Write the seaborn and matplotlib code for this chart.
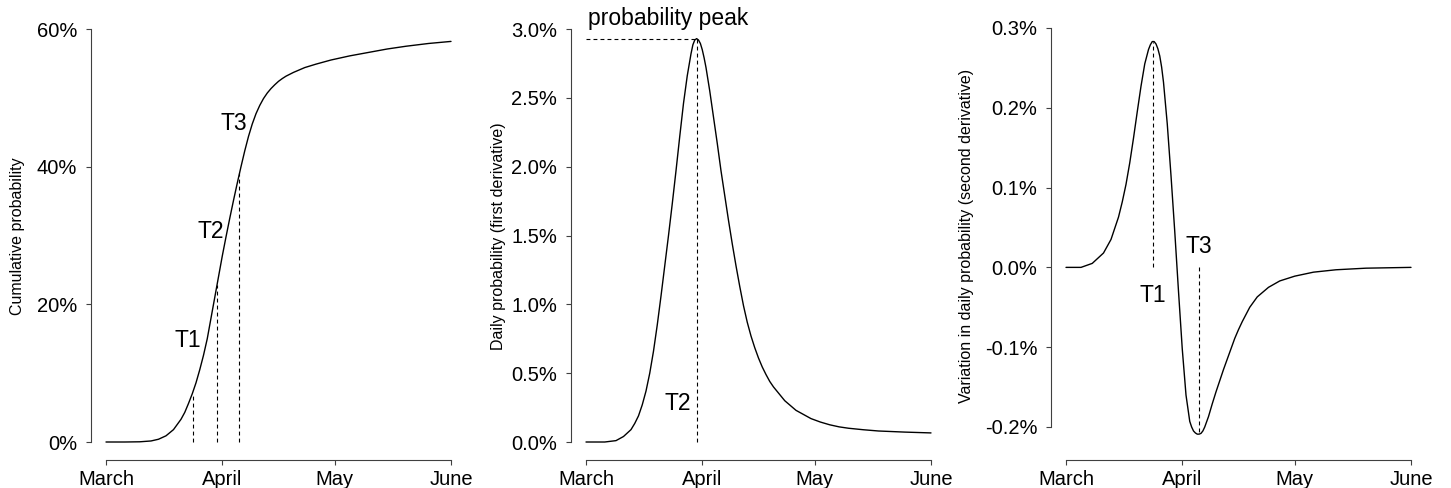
"""
Cumulative, daily and variation-in-daily probability curves (three panels)
"""

# %% --------------------------------------------------------------------------
# Imports
# -----------------------------------------------------------------------------
import matplotlib
matplotlib.use("Agg")
import matplotlib.pyplot as plt
from matplotlib.ticker import FuncFormatter
import seaborn as sns

# %% --------------------------------------------------------------------------
# Data (days since 1 March, values in %)
# -----------------------------------------------------------------------------
cum_days = [0, 5, 9, 12, 14, 16, 18, 20, 21, 22, 23, 24, 25, 26, 27, 28, 29,
            30, 31, 32, 33, 34, 35, 36, 37, 38, 39, 40, 41, 42, 43, 44, 45,
            46, 47, 48, 50, 53, 56, 60, 65, 70, 75, 80, 86, 92]
cum_prob = [0.0, 0.0, 0.03, 0.15, 0.4, 0.9, 1.8, 3.3, 4.3, 5.6, 7.0, 8.6,
            10.5, 12.6, 15.0, 18.0, 21.0, 24.0, 27.0, 29.8, 32.5, 35.1, 37.6,
            40.0, 42.3, 44.4, 46.2, 47.7, 48.9, 49.9, 50.7, 51.35, 51.9,
            52.4, 52.8, 53.15, 53.7, 54.4, 54.9, 55.5, 56.1, 56.6, 57.1,
            57.5, 57.9, 58.2]

daily_days = [0, 5, 8, 10, 12, 13, 14, 15, 16, 17, 18, 19, 20, 21, 22, 23,
              24, 25, 26, 27, 28, 28.5, 29, 29.5, 30, 30.5, 31, 31.5, 32, 33,
              34, 35, 36, 37, 38, 39, 40, 41, 42, 43, 44, 45, 46, 47, 48, 49,
              50, 51.5, 53, 54.5, 56, 58, 60, 62.5, 65, 67.5, 70, 74, 78, 85,
              92]
daily_prob = [0.0, 0.0, 0.01, 0.04, 0.09, 0.135, 0.19, 0.27, 0.37, 0.50,
              0.66, 0.85, 1.06, 1.28, 1.50, 1.73, 1.97, 2.22, 2.46, 2.66,
              2.82, 2.885, 2.92, 2.93, 2.92, 2.895, 2.85, 2.79, 2.72, 2.55,
              2.36, 2.17, 1.97, 1.79, 1.61, 1.44, 1.28, 1.13, 0.99, 0.87,
              0.77, 0.685, 0.61, 0.545, 0.49, 0.44, 0.40, 0.35, 0.30, 0.265,
              0.23, 0.20, 0.17, 0.145, 0.125, 0.11, 0.10, 0.089, 0.08, 0.072,
              0.066]

var_days = [0, 4, 7, 10, 12, 14, 15, 16, 17, 18, 19, 20, 21, 22, 22.5, 23,
            23.5, 24, 24.5, 25, 25.5, 26, 27, 28, 29, 30, 31, 32, 33, 33.5,
            34, 34.5, 35, 35.5, 36, 36.5, 37, 38, 39, 40, 41, 42, 43, 44, 45,
            46, 47, 48, 49, 51, 54, 57, 61, 66, 72, 80, 92]
var_prob = [0.0, 0.0, 0.005, 0.018, 0.035, 0.063, 0.082, 0.104, 0.131,
            0.162, 0.195, 0.227, 0.255, 0.273, 0.279, 0.283, 0.283, 0.280,
            0.274, 0.265, 0.251, 0.232, 0.180, 0.115, 0.045, -0.030, -0.102,
            -0.160, -0.193, -0.200, -0.205, -0.2075, -0.209, -0.209, -0.208,
            -0.205, -0.200, -0.187, -0.171, -0.156, -0.142, -0.128, -0.115,
            -0.102, -0.089, -0.078, -0.068, -0.059, -0.050, -0.037, -0.025,
            -0.017, -0.011, -0.006, -0.003, -0.001, 0.0]

month_ticks = [0, 31, 61, 92]
month_labels = ["March", "April", "May", "June"]

# turning points
t_days = [23.2, 29.6, 35.5]
t_cum = [7.1, 22.8, 39.1]
peak_daily = 2.93
t1_var = 0.283
t3_var = -0.209

# %% --------------------------------------------------------------------------
# Figure
# -----------------------------------------------------------------------------
sns.set_style("ticks")
plt.rcParams["font.family"] = ["Liberation Sans", "DejaVu Sans"]
plt.rcParams["text.color"] = "black"
plt.rcParams["axes.labelcolor"] = "black"

W, H = 1451, 488
fig = plt.figure(figsize=(W / 100, H / 100), dpi=100)

XLIM = (-4.0, 95.7)
px_w = (XLIM[1] - XLIM[0]) * 3.75
bottom_px, top_px = 460, 26


def make_ax(left_px, ylim, yticks, fmt, ylabel, label_x_px):
    ax = fig.add_axes([left_px / W, (H - bottom_px) / H, px_w / W,
                       (bottom_px - top_px) / H])
    ax.set_xlim(*XLIM)
    ax.set_ylim(*ylim)
    ax.set_xticks(month_ticks)
    ax.set_xticklabels(month_labels)
    ax.set_yticks(yticks)
    ax.yaxis.set_major_formatter(FuncFormatter(lambda v, p: fmt.format(v)))
    for s in ["top", "right"]:
        ax.spines[s].set_visible(False)
    for s in ["left", "bottom"]:
        ax.spines[s].set_color("#404040")
        ax.spines[s].set_linewidth(0.8)
    ax.spines["bottom"].set_bounds(month_ticks[0], month_ticks[-1])
    ax.spines["left"].set_bounds(yticks[0], yticks[-1])
    ax.tick_params(axis="both", direction="out", length=3.6, width=0.8,
                   color="#404040", labelsize=14.5, labelcolor="black",
                   bottom=True, left=True)
    ax.tick_params(axis="x", pad=3.5)
    ax.tick_params(axis="y", pad=6.3)
    ax.set_xlabel("")
    ax.set_ylabel(ylabel, fontsize=11.5)
    ax.yaxis.set_label_coords((label_x_px - left_px) / px_w,
                              (bottom_px - 236) / (bottom_px - top_px))
    ax.yaxis.label.set_verticalalignment("center")
    ax.grid(False)
    return ax


dash = dict(color="black", lw=0.8, linestyle=(0, (3.5, 2.8)))
txt = dict(fontsize=16.5, ha="center", va="baseline")

# Panel 1: cumulative probability
ax1 = make_ax(91, (-2.615, 60.44), [0, 20, 40, 60], "{:.0f}%",
              "Cumulative probability", 18)
sns.lineplot(x=cum_days, y=cum_prob, ax=ax1, color="black", lw=1.0)
for d, v in zip(t_days, t_cum):
    ax1.plot([d, d], [0, v], **dash)
ax1.text(21.73, 13.85, "T1", **txt)
ax1.text(28.0, 29.6, "T2", **txt)
ax1.text(34.2, 45.4, "T3", **txt)

# Panel 2: daily probability
ax2 = make_ax(571, (-0.1307, 3.0218), [0, 0.5, 1.0, 1.5, 2.0, 2.5, 3.0],
              "{:.1f}%", "Daily probability (first derivative)", 499)
sns.lineplot(x=daily_days, y=daily_prob, ax=ax2, color="black", lw=1.0)
ax2.plot([0, t_days[1]], [peak_daily, peak_daily], **dash)
ax2.plot([t_days[1], t_days[1]], [0, peak_daily], **dash)
ax2.text(0.45, 3.029, "probability peak", fontsize=16.5, ha="left",
         va="baseline", clip_on=False)
ax2.text(24.4, 0.232, "T2", **txt)

# Panel 3: variation in daily probability
ax3 = make_ax(1051, (-0.2414, 0.3025), [-0.2, -0.1, 0.0, 0.1, 0.2, 0.3],
              "{:.1f}%", "Variation in daily probability (second derivative)",
              966)
sns.lineplot(x=var_days, y=var_prob, ax=ax3, color="black", lw=1.0)
ax3.plot([23.3, 23.3], [0, t1_var], **dash)
ax3.plot([t_days[2], t_days[2]], [0, t3_var], **dash)
ax3.text(23.07, -0.043, "T1", **txt)
ax3.text(35.5, 0.0177, "T3", **txt)

fig.savefig("out.png", dpi=100, facecolor="white")
